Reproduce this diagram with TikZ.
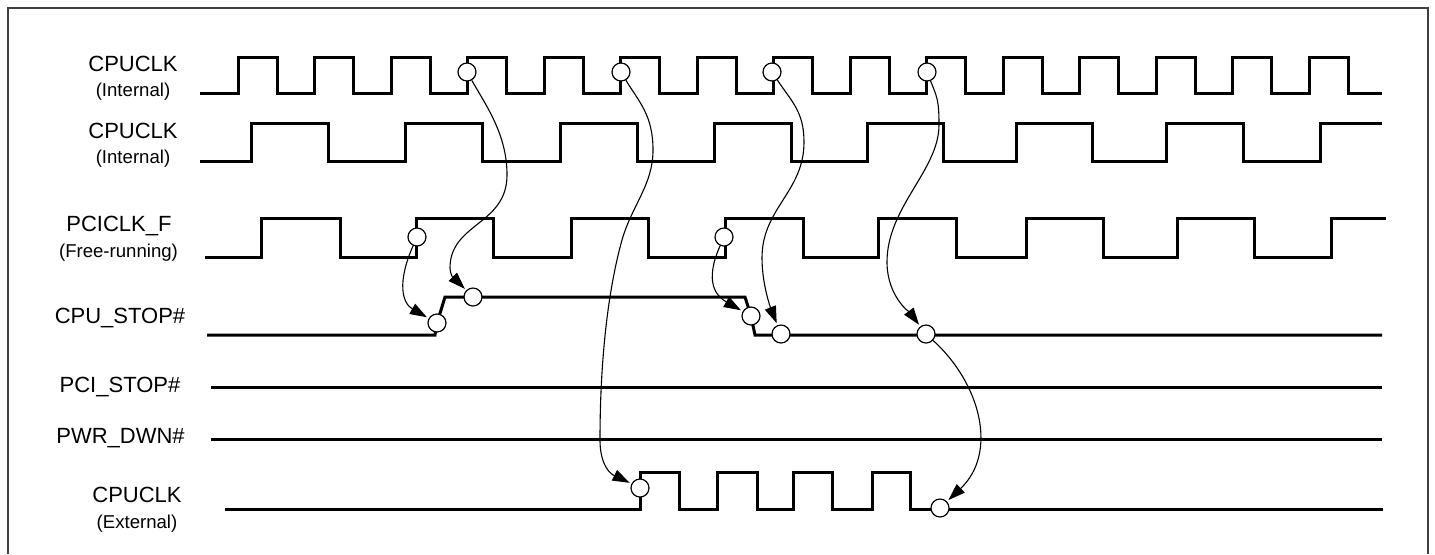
\documentclass[tikz,border=0pt]{standalone}
\usepackage{fontspec}
\setmainfont{Liberation Sans}
\usetikzlibrary{arrows.meta}
\newcommand{\nameFont}[0]{\fontsize{11}{13}\selectfont}
\newcommand{\noteFont}[0]{\fontsize{9.3}{11}\selectfont}

\begin{document}
\begin{tikzpicture}[x=0.5pt, y=0.5pt]
  \tikzset{
    signal/.style={line width=1.5pt, line join=miter},
    ring/.style={circle, draw, line width=0.6pt, fill=white, inner sep=0pt, minimum size=9pt},
    cause/.style={line width=0.55pt, shorten >=1pt, -{Triangle[length=8.5pt,width=5.8pt]}},
    sig name/.style={anchor=base, inner sep=0pt, font=\nameFont},
    sig note/.style={anchor=base, inner sep=0pt, font=\noteFont}
  }
  \useasboundingbox (0,0) rectangle (1435,-554);
  \draw[black!75, line width=0.6pt] (8,-554) -- (8,-8) -- (1428,-8) -- (1428,-554);

  % signal names
  \node[sig name] (N-1) at (133,-71) {CPUCLK};
  \node[sig note] (M-1) at (133,-96.5) {(Internal)};
  \node[sig name] (N-2) at (133,-138) {CPUCLK};
  \node[sig note] (M-2) at (133,-163) {(Internal)};
  \node[sig name] (N-3) at (119,-231) {PCICLK\_F};
  \node[sig note] (M-3) at (118.5,-257) {(Free-running)};
  \node[sig name] (N-4) at (120,-323) {CPU\_STOP\#};
  \node[sig name] (N-5) at (120,-392) {PCI\_STOP\#};
  \node[sig name] (N-6) at (120.5,-443) {PWR\_DWN\#};
  \node[sig name] (N-7) at (137,-502) {CPUCLK};
  \node[sig note] (M-7) at (137,-528) {(External)};

  % waveforms
  \draw[signal] (200,-93) foreach \r in {238,314.5,...,1310} { -- (\r,-93) -- (\r,-57) -- (\r+39,-57) -- (\r+39,-93) } -- (1382,-93);
  \draw[signal] (200,-161) foreach \r/\f in {251/328,405/482,560/637,714/791,867/943,1016/1092,1166/1243} { -- (\r,-161) -- (\r,-123) -- (\f,-123) -- (\f,-161) } -- (1320,-161) -- (1320,-123) -- (1382,-123);
  \draw[signal] (205,-257) foreach \r/\f in {261/340,416/493,571/648,725/803,878/956,1026/1103,1177/1254} { -- (\r,-257) -- (\r,-218) -- (\f,-218) -- (\f,-257) } -- (1331,-257) -- (1331,-218) -- (1386,-218);
  \draw[signal] (207,-335) -- (435,-335) -- (437,-323) -- (445,-297) -- (745,-297) -- (751,-316) -- (755,-335) -- (1382,-335);
  \draw[signal] (211,-387) -- (1382,-387);
  \draw[signal] (211,-439) -- (1382,-439);
  \draw[signal] (225,-509) foreach \r/\f in {640/679,717/757,793/832,872/910} { -- (\r,-509) -- (\r,-472) -- (\f,-472) -- (\f,-509) } -- (1383,-509);

  % edge markers
  \node[ring] (CK-1) at (467,-72) {};
  \node[ring] (CK-2) at (621,-72) {};
  \node[ring] (CK-3) at (772,-72) {};
  \node[ring] (CK-4) at (927,-72) {};
  \node[ring] (PF-1) at (417,-237) {};
  \node[ring] (PF-2) at (724,-237) {};
  \node[ring] (ST-1) at (437,-323) {};
  \node[ring] (ST-2) at (473,-297) {};
  \node[ring] (ST-3) at (751,-316) {};
  \node[ring] (ST-4) at (781,-334) {};
  \node[ring] (ST-5) at (926,-334) {};
  \node[ring] (EX-1) at (640,-488) {};
  \node[ring] (EX-2) at (940,-508) {};

  % causality arrows
  \draw[cause] (PF-1) .. controls +(-20,-45) and +(-35,20) .. (ST-1);
  \draw[cause] (CK-1) .. controls +(20,-35) and +(0,40) .. (507,-175) .. controls +(0,-50) and +(0,45) .. (450,-268) .. controls +(0,-12) and +(-10,10) .. (ST-2);
  \draw[cause] (CK-2) .. controls +(18,-30) and +(0,35) .. (653,-150) .. controls +(0,-35) and +(10,35) .. (622,-240) .. controls +(-14,-50) and +(0,80) .. (600,-440) .. controls +(0,-35) and +(-20,10) .. (EX-1);
  \draw[cause] (PF-2) .. controls +(-20,-45) and +(-35,20) .. (ST-3);
  \draw[cause] (CK-3) .. controls +(20,-30) and +(0,30) .. (804,-142) .. controls +(0,-50) and +(0,50) .. (762,-258) .. controls +(0,-30) and +(-8,20) .. (ST-4);
  \draw[cause] (CK-4) .. controls +(10,-25) and +(0,25) .. (939,-125) .. controls +(0,-45) and +(0,55) .. (887,-262) .. controls +(0,-35) and +(-15,20) .. (ST-5);
  \draw[cause] (ST-5) .. controls +(55,-50) and +(58,55) .. (EX-2);
\end{tikzpicture}
\end{document}
